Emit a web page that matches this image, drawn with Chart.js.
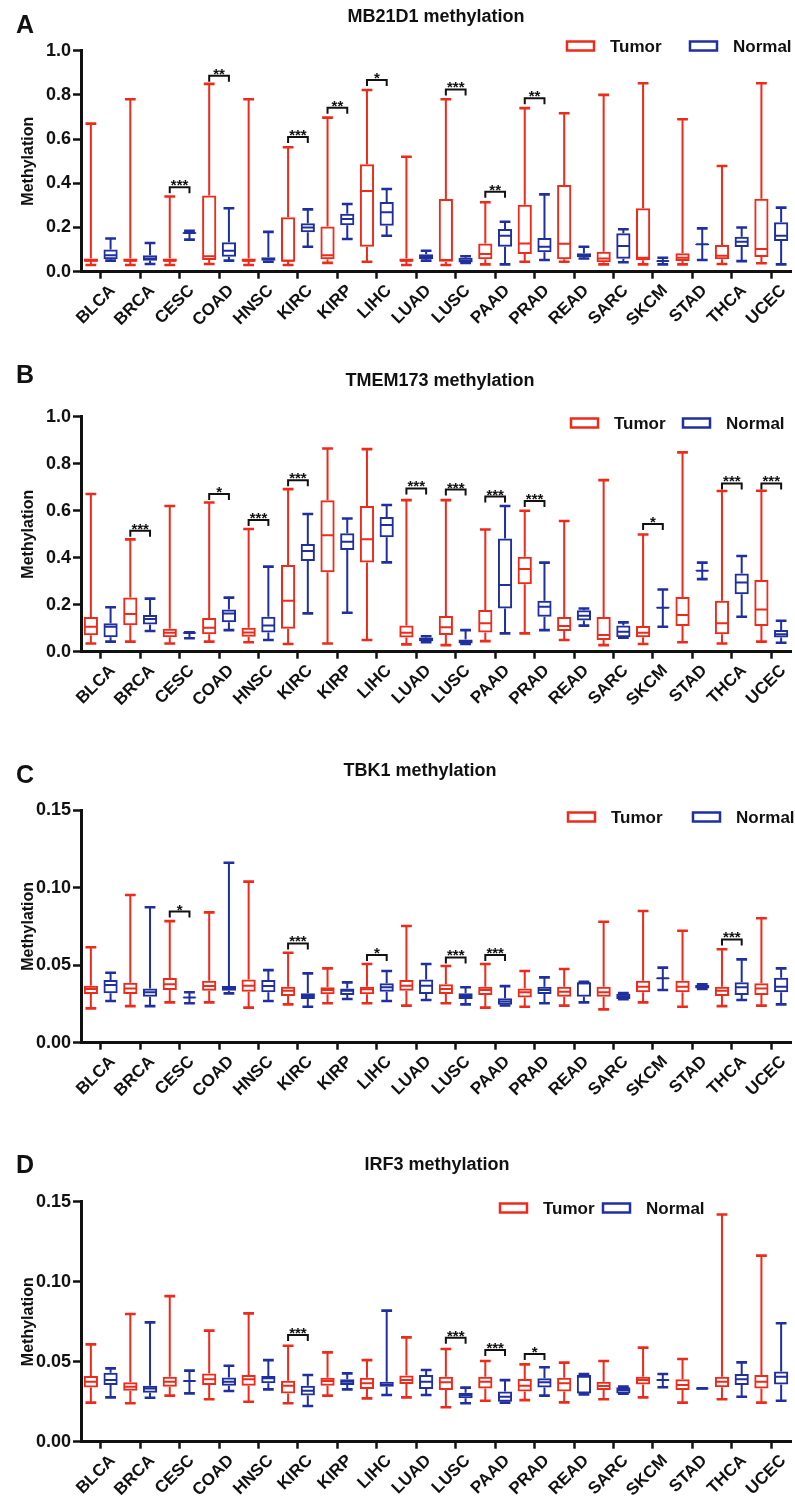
<!DOCTYPE html>
<html>
<head>
<meta charset="utf-8">
<script src="https://cdn.jsdelivr.net/npm/chart.js@4.4.0/dist/chart.umd.min.js"></script>
<style>
  html, body { margin: 0; padding: 0; background: #fff; }
  #wrap { position: relative; width: 795px; height: 1498px; overflow: hidden; }
  canvas { position: absolute; left: 0; }
</style>
</head>
<body>
<div id="wrap">
  <canvas id="panelA" width="795" height="370" style="top:0px"></canvas>
  <canvas id="panelB" width="795" height="390" style="top:350px"></canvas>
  <canvas id="panelC" width="795" height="380" style="top:740px"></canvas>
  <canvas id="panelD" width="795" height="378" style="top:1120px"></canvas>
</div>
<script>
/* ---------- data ---------- */
const categories = ['BLCA', 'BRCA', 'CESC', 'COAD', 'HNSC', 'KIRC', 'KIRP', 'LIHC', 'LUAD',
  'LUSC', 'PAAD', 'PRAD', 'READ', 'SARC', 'SKCM', 'STAD', 'THCA', 'UCEC'];

const ticksAB = [0, 0.2, 0.4, 0.6, 0.8, 1.0];
const ticksCD = [0, 0.05, 0.10, 0.15];

// each entry: [min, q1, median, q3, max]
const mb21d1Tumor = [
  [0.03, 0.045, 0.05, 0.06, 0.67], [0.03, 0.045, 0.05, 0.06, 0.78], [0.03, 0.045, 0.05, 0.06, 0.34],
  [0.035, 0.053, 0.07, 0.345, 0.85], [0.03, 0.045, 0.05, 0.06, 0.78], [0.03, 0.045, 0.05, 0.246, 0.563],
  [0.04, 0.056, 0.075, 0.204, 0.697], [0.045, 0.113, 0.365, 0.486, 0.822], [0.03, 0.045, 0.05, 0.06, 0.52],
  [0.03, 0.045, 0.053, 0.329, 0.78], [0.033, 0.056, 0.08, 0.128, 0.314], [0.045, 0.08, 0.128, 0.303, 0.74],
  [0.045, 0.056, 0.127, 0.392, 0.717], [0.033, 0.043, 0.06, 0.09, 0.80], [0.033, 0.052, 0.063, 0.287, 0.853],
  [0.033, 0.048, 0.063, 0.083, 0.69], [0.035, 0.056, 0.072, 0.121, 0.478], [0.038, 0.067, 0.103, 0.33, 0.853]
];
const mb21d1Normal = [
  [0.05, 0.056, 0.075, 0.10, 0.15], [0.035, 0.05, 0.06, 0.075, 0.13], [0.145, 0.172, 0.175, 0.178, 0.185],
  [0.05, 0.068, 0.095, 0.133, 0.287], [0.045, 0.05, 0.058, 0.065, 0.18], [0.113, 0.178, 0.20, 0.219, 0.282],
  [0.148, 0.21, 0.238, 0.262, 0.306], [0.163, 0.208, 0.269, 0.315, 0.374], [0.05, 0.056, 0.067, 0.079, 0.095],
  [0.04, 0.042, 0.05, 0.063, 0.07], [0.033, 0.113, 0.163, 0.193, 0.226], [0.053, 0.088, 0.113, 0.153, 0.35],
  [0.06, 0.065, 0.075, 0.083, 0.113], [0.043, 0.059, 0.116, 0.174, 0.192], [0.033, 0.046, 0.048, 0.05, 0.063],
  [0.053, 0.121, 0.124, 0.127, 0.196], [0.048, 0.112, 0.136, 0.158, 0.20], [0.033, 0.139, 0.163, 0.224, 0.29]
];
const mb21d1Sig = [['CESC', '***', 0.382], ['COAD', '**', 0.887], ['KIRC', '***', 0.61], ['KIRP', '**', 0.742],
  ['LIHC', '*', 0.867], ['LUSC', '***', 0.825], ['PAAD', '**', 0.362], ['PRAD', '**', 0.785]];

const tmem173Tumor = [
  [0.035, 0.07, 0.106, 0.148, 0.671], [0.043, 0.113, 0.16, 0.231, 0.478], [0.035, 0.061, 0.081, 0.098, 0.62],
  [0.043, 0.074, 0.102, 0.143, 0.635], [0.04, 0.064, 0.082, 0.102, 0.522], [0.033, 0.098, 0.217, 0.369, 0.692],
  [0.035, 0.338, 0.496, 0.645, 0.865], [0.05, 0.38, 0.478, 0.62, 0.862], [0.031, 0.06, 0.081, 0.112, 0.645],
  [0.028, 0.071, 0.104, 0.152, 0.645], [0.045, 0.082, 0.121, 0.177, 0.52], [0.078, 0.287, 0.352, 0.404, 0.60],
  [0.05, 0.088, 0.109, 0.148, 0.556], [0.028, 0.05, 0.071, 0.148, 0.73], [0.033, 0.061, 0.081, 0.109, 0.499],
  [0.04, 0.109, 0.156, 0.233, 0.848], [0.035, 0.074, 0.121, 0.217, 0.684], [0.043, 0.109, 0.18, 0.305, 0.685]
];
const tmem173Normal = [
  [0.043, 0.061, 0.106, 0.121, 0.189], [0.088, 0.116, 0.139, 0.156, 0.226], [0.057, 0.078, 0.08, 0.082, 0.083],
  [0.092, 0.125, 0.163, 0.18, 0.23], [0.05, 0.082, 0.111, 0.149, 0.362], [0.163, 0.386, 0.428, 0.458, 0.586],
  [0.166, 0.433, 0.468, 0.504, 0.567], [0.38, 0.487, 0.539, 0.573, 0.624], [0.04, 0.045, 0.053, 0.06, 0.066],
  [0.033, 0.035, 0.043, 0.052, 0.092], [0.078, 0.184, 0.284, 0.482, 0.62], [0.092, 0.149, 0.191, 0.217, 0.379],
  [0.111, 0.133, 0.153, 0.176, 0.184], [0.06, 0.061, 0.085, 0.111, 0.125], [0.106, 0.185, 0.187, 0.189, 0.265],
  [0.309, 0.343, 0.345, 0.347, 0.379], [0.149, 0.244, 0.294, 0.333, 0.407], [0.038, 0.06, 0.074, 0.092, 0.132]
];
const tmem173Sig = [['BRCA', '***', 0.515], ['COAD', '*', 0.671], ['HNSC', '***', 0.56], ['KIRC', '***', 0.73],
  ['LUAD', '***', 0.695], ['LUSC', '***', 0.69], ['PAAD', '***', 0.66], ['PRAD', '***', 0.641],
  ['SKCM', '*', 0.543], ['THCA', '***', 0.716], ['UCEC', '***', 0.716]];

const tbk1Tumor = [
  [0.0221, 0.0314, 0.0346, 0.0367, 0.0615], [0.0236, 0.0314, 0.035, 0.0387, 0.0952], [0.026, 0.034, 0.0376, 0.0417, 0.0784],
  [0.026, 0.0335, 0.0365, 0.04, 0.084], [0.0226, 0.0329, 0.0367, 0.0408, 0.1038], [0.0247, 0.0301, 0.0335, 0.0361, 0.058],
  [0.0254, 0.0312, 0.034, 0.0357, 0.0479], [0.0254, 0.0312, 0.0344, 0.0361, 0.0507], [0.0239, 0.0335, 0.0367, 0.0404, 0.0752],
  [0.0254, 0.0314, 0.0346, 0.0376, 0.0494], [0.0226, 0.0307, 0.034, 0.0361, 0.0507], [0.0232, 0.0292, 0.0325, 0.035, 0.0462],
  [0.0239, 0.0297, 0.0329, 0.0361, 0.0475], [0.0215, 0.0297, 0.0325, 0.0361, 0.078], [0.026, 0.0325, 0.0361, 0.04, 0.0849],
  [0.0232, 0.0325, 0.0361, 0.04, 0.0722], [0.0236, 0.0301, 0.0335, 0.0361, 0.0602], [0.0239, 0.0307, 0.035, 0.0383, 0.0802]
];
const tbk1Normal = [
  [0.0269, 0.0318, 0.0372, 0.0404, 0.0451], [0.0236, 0.0297, 0.0325, 0.035, 0.0873], [0.0254, 0.029, 0.0292, 0.0294, 0.0325],
  [0.0318, 0.0335, 0.035, 0.0365, 0.116], [0.0269, 0.0325, 0.0365, 0.0404, 0.0468], [0.0232, 0.0282, 0.0301, 0.0318, 0.0447],
  [0.0282, 0.0307, 0.0335, 0.035, 0.0389], [0.0269, 0.0329, 0.0357, 0.0383, 0.0462], [0.0275, 0.0314, 0.0367, 0.0408, 0.0507],
  [0.0247, 0.0282, 0.0301, 0.0318, 0.0357], [0.024, 0.0245, 0.0265, 0.0286, 0.0365], [0.0254, 0.0314, 0.034, 0.0361, 0.0421],
  [0.026, 0.0297, 0.0383, 0.0389, 0.0393], [0.028, 0.0282, 0.03, 0.0316, 0.032], [0.034, 0.0413, 0.0415, 0.0417, 0.0484],
  [0.0346, 0.035, 0.0361, 0.0372, 0.0376], [0.0275, 0.0307, 0.0357, 0.0389, 0.0537], [0.0247, 0.0325, 0.0361, 0.0419, 0.0479]
];
const tbk1Sig = [['CESC', '*', 0.0845], ['KIRC', '***', 0.064], ['LIHC', '*', 0.0565], ['LUSC', '***', 0.055],
  ['PAAD', '***', 0.0565], ['THCA', '***', 0.0666]];

const irf3Tumor = [
  [0.0244, 0.0338, 0.0375, 0.041, 0.0608], [0.024, 0.0319, 0.0344, 0.0371, 0.0798], [0.0288, 0.0344, 0.0375, 0.0406, 0.091],
  [0.0265, 0.0354, 0.039, 0.0427, 0.0694], [0.025, 0.035, 0.039, 0.0417, 0.0802], [0.024, 0.0302, 0.035, 0.0381, 0.06],
  [0.0288, 0.035, 0.0379, 0.04, 0.0558], [0.0271, 0.0329, 0.0365, 0.04, 0.051], [0.0277, 0.036, 0.0385, 0.0413, 0.0652],
  [0.0215, 0.0323, 0.0371, 0.0406, 0.0579], [0.0256, 0.0333, 0.0375, 0.0406, 0.0504], [0.026, 0.0313, 0.035, 0.0392, 0.0483],
  [0.0246, 0.0313, 0.0365, 0.04, 0.0494], [0.0265, 0.0323, 0.0348, 0.0375, 0.0504], [0.0277, 0.0358, 0.0385, 0.0406, 0.0588],
  [0.0244, 0.0323, 0.0354, 0.039, 0.0517], [0.0265, 0.034, 0.0375, 0.0406, 0.142], [0.0244, 0.0333, 0.0375, 0.0417, 0.1163]
];
const irf3Normal = [
  [0.0277, 0.0354, 0.0385, 0.0431, 0.0458], [0.0275, 0.0306, 0.0333, 0.035, 0.0746], [0.0302, 0.0377, 0.0379, 0.0381, 0.0444],
  [0.0317, 0.035, 0.0375, 0.0402, 0.0475], [0.0327, 0.0365, 0.0396, 0.041, 0.051], [0.0223, 0.0288, 0.0319, 0.035, 0.0417],
  [0.0327, 0.0354, 0.0375, 0.039, 0.0427], [0.0292, 0.0344, 0.0354, 0.0375, 0.0819], [0.0292, 0.0329, 0.0375, 0.0417, 0.0448],
  [0.024, 0.0271, 0.0292, 0.0306, 0.0338], [0.0244, 0.025, 0.0281, 0.0313, 0.0385], [0.0288, 0.0338, 0.0371, 0.0396, 0.0465],
  [0.0296, 0.0302, 0.0406, 0.0417, 0.0423], [0.03, 0.0302, 0.0323, 0.034, 0.0344], [0.034, 0.0383, 0.0385, 0.0387, 0.0423],
  [0.0333, 0.0332, 0.0333, 0.0334, 0.0334], [0.0281, 0.0354, 0.039, 0.0423, 0.0496], [0.0256, 0.0358, 0.0406, 0.0438, 0.074]
];
const irf3Sig = [['KIRC', '***', 0.0667], ['LUSC', '***', 0.065], ['PAAD', '***', 0.0573], ['PRAD', '*', 0.0548]];

/* ---------- style ---------- */
const RED = '#EE2A1B';
const BLUE = '#1F2FA0';
const INK = '#111';
const FONT = 'Arial, "Liberation Sans", Helvetica, sans-serif';

/* whiskers, medians, significance brackets, title, legend */
const boxPlugin = {
  id: 'boxExtras',
  afterDatasetsDraw(chart, args, opts) {
    const ctx = chart.ctx;
    const yScale = chart.scales.y;
    chart.data.datasets.forEach((ds, di) => {
      const meta = chart.getDatasetMeta(di);
      ctx.save();
      ctx.strokeStyle = ds.borderColor;
      meta.data.forEach((bar, i) => {
        const [lo, q1, med, q3, hi] = ds.stats[i];
        const { x, width } = bar.getProps(['x', 'width'], true);
        const half = width / 2;
        const cap = width * 0.38;
        const pLo = yScale.getPixelForValue(lo);
        const pQ1 = yScale.getPixelForValue(q1);
        const pMed = yScale.getPixelForValue(med);
        const pQ3 = yScale.getPixelForValue(q3);
        const pHi = yScale.getPixelForValue(hi);
        ctx.lineWidth = 2;
        ctx.beginPath();
        ctx.moveTo(x, pQ3); ctx.lineTo(x, pHi);
        ctx.moveTo(x, pQ1); ctx.lineTo(x, pLo);
        ctx.moveTo(x - half + 1, pMed); ctx.lineTo(x + half - 1, pMed);
        ctx.stroke();
        ctx.lineWidth = 2.6;
        ctx.beginPath();
        ctx.moveTo(x - cap, pHi); ctx.lineTo(x + cap, pHi);
        ctx.moveTo(x - cap, pLo); ctx.lineTo(x + cap, pLo);
        ctx.stroke();
      });
      ctx.restore();
    });

    // significance brackets between tumor and normal
    const tMeta = chart.getDatasetMeta(0);
    const nMeta = chart.getDatasetMeta(1);
    ctx.save();
    ctx.strokeStyle = INK;
    ctx.fillStyle = INK;
    ctx.lineWidth = 2;
    ctx.font = 'bold 15px ' + FONT;
    ctx.textAlign = 'center';
    ctx.textBaseline = 'alphabetic';
    opts.sig.forEach(([cat, stars, level]) => {
      const i = chart.data.labels.indexOf(cat);
      const x1 = tMeta.data[i].getProps(['x'], true).x;
      const x2 = nMeta.data[i].getProps(['x'], true).x;
      const py = yScale.getPixelForValue(level);
      ctx.beginPath();
      ctx.moveTo(x1, py + 6); ctx.lineTo(x1, py); ctx.lineTo(x2, py); ctx.lineTo(x2, py + 6);
      ctx.stroke();
      ctx.fillText(stars, (x1 + x2) / 2, py + 3);
    });
    ctx.restore();
  },
  afterDraw(chart, args, opts) {
    const ctx = chart.ctx;
    ctx.save();
    ctx.fillStyle = INK;
    ctx.textBaseline = 'middle';
    ctx.font = 'bold 25px ' + FONT;
    ctx.textAlign = 'center';
    ctx.fillText(opts.letter, 25, opts.letterY);
    ctx.font = 'bold 18px ' + FONT;
    ctx.fillText(opts.title, opts.titleX, opts.titleY);

    // legend
    const lg = opts.legend;
    ctx.font = 'bold 17px ' + FONT;
    ctx.textAlign = 'left';
    chart.data.datasets.forEach((ds, di) => {
      const bx = lg.x[di];
      ctx.strokeStyle = ds.borderColor;
      ctx.lineWidth = 2.5;
      ctx.strokeRect(bx, lg.y - 4.5, 27, 9);
      ctx.fillText(ds.label, bx + 43, lg.y + 1);
    });
    ctx.restore();
  }
};

function makePanel(id, tumor, normal, sig, yTicks, decimals, layout) {
  const yMax = yTicks[yTicks.length - 1];
  return new Chart(document.getElementById(id), {
    type: 'bar',
    data: {
      labels: categories,
      datasets: [
        {
          label: 'Tumor',
          stats: tumor,
          data: tumor.map(s => [s[1], s[3]]),
          borderColor: RED,
          backgroundColor: 'rgba(255,255,255,0)',
          borderWidth: 2,
          borderSkipped: false
        },
        {
          label: 'Normal',
          stats: normal,
          data: normal.map(s => [s[1], s[3]]),
          borderColor: BLUE,
          backgroundColor: 'rgba(255,255,255,0)',
          borderWidth: 2,
          borderSkipped: false
        }
      ]
    },
    options: {
      responsive: false,
      animation: false,
      devicePixelRatio: 1,
      categoryPercentage: 1.0,
      barPercentage: 0.72,
      layout: { padding: { top: layout.top, right: 4, left: 0, bottom: 0 } },
      plugins: {
        legend: { display: false },
        tooltip: { enabled: false },
        boxExtras: {
          sig,
          letter: layout.letter,
          letterY: layout.letterY,
          title: layout.title,
          titleX: layout.titleX,
          titleY: layout.titleY,
          legend: layout.legend
        }
      },
      scales: {
        x: {
          grid: { offset: false, drawOnChartArea: false, drawTicks: true, tickLength: 7, tickWidth: 2.5, tickColor: INK },
          border: { display: true, width: 3, color: INK },
          ticks: {
            autoSkip: false,
            maxRotation: 45,
            minRotation: 45,
            padding: 2,
            labelOffset: 12,
            color: INK,
            font: { family: FONT, size: 17, weight: 'bold' }
          },
          afterFit: s => { s.height = layout.xHeight; }
        },
        y: {
          min: 0,
          max: yMax,
          afterBuildTicks: s => { s.ticks = yTicks.map(v => ({ value: v })); },
          grid: { drawOnChartArea: false, drawTicks: true, tickLength: 8, tickWidth: 2.5, tickColor: INK },
          border: { display: true, width: 3, color: INK },
          ticks: {
            padding: 2,
            color: INK,
            font: { family: FONT, size: 18, weight: 'bold' },
            callback: v => Number(v).toFixed(decimals)
          },
          title: {
            display: true,
            text: 'Methylation',
            color: INK,
            font: { family: FONT, size: 16, weight: 'bold' },
            padding: { top: 19, bottom: 0 }
          },
          afterFit: s => { s.width = 81; }
        }
      }
    },
    plugins: [boxPlugin]
  });
}

makePanel('panelA', mb21d1Tumor, mb21d1Normal, mb21d1Sig, ticksAB, 1, {
  top: 50.7, xHeight: 98.3, letter: 'A', letterY: 26, title: 'MB21D1 methylation', titleX: 436, titleY: 17,
  legend: { y: 46, x: [567, 690] }
});
makePanel('panelB', tmem173Tumor, tmem173Normal, tmem173Sig, ticksAB, 1, {
  top: 66.7, xHeight: 88.3, letter: 'B', letterY: 26, title: 'TMEM173 methylation', titleX: 440, titleY: 31,
  legend: { y: 73, x: [571, 683] }
});
makePanel('panelC', tbk1Tumor, tbk1Normal, tbk1Sig, ticksCD, 2, {
  top: 70, xHeight: 77.3, letter: 'C', letterY: 36, title: 'TBK1 methylation', titleX: 420, titleY: 31,
  legend: { y: 77, x: [568, 693] }
});
makePanel('panelD', irf3Tumor, irf3Normal, irf3Sig, ticksCD, 2, {
  top: 81.7, xHeight: 56.3, letter: 'D', letterY: 46, title: 'IRF3 methylation', titleX: 437, titleY: 45,
  legend: { y: 88, x: [500, 603] }
});
</script>
</body>
</html>
